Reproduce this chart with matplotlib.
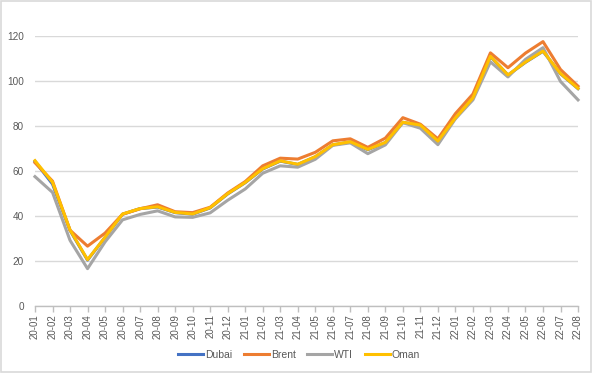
import matplotlib
matplotlib.use("Agg")
import matplotlib.pyplot as plt
from matplotlib.patches import Rectangle

months = ["20-01", "20-02", "20-03", "20-04", "20-05", "20-06", "20-07", "20-08",
          "20-09", "20-10", "20-11", "20-12", "21-01", "21-02", "21-03", "21-04",
          "21-05", "21-06", "21-07", "21-08", "21-09", "21-10", "21-11", "21-12",
          "22-01", "22-02", "22-03", "22-04", "22-05", "22-06", "22-07", "22-08"]

dubai = [64.3, 54.2, 33.6, 20.4, 30.5, 40.8, 43.3, 44.0, 41.5, 40.8, 43.6, 49.8,
         54.8, 60.9, 64.4, 62.9, 66.3, 71.6, 72.9, 69.5, 72.6, 81.6, 80.3, 73.2,
         83.5, 92.4, 110.9, 102.6, 108.3, 113.2, 103.2, 96.6]
brent = [63.7, 55.5, 33.7, 26.6, 32.4, 40.8, 43.2, 45.0, 41.9, 41.5, 43.9, 50.2,
         55.3, 62.3, 65.7, 65.3, 68.3, 73.4, 74.3, 70.5, 74.6, 83.7, 80.8, 74.3,
         85.5, 94.2, 112.5, 105.9, 112.4, 117.5, 105.1, 97.7]
wti = [57.5, 50.5, 29.2, 16.6, 28.5, 38.3, 40.7, 42.3, 39.6, 39.4, 41.4, 47.0,
       52.0, 59.0, 62.3, 61.7, 65.2, 71.4, 72.5, 67.7, 71.6, 81.5, 79.0, 71.7,
       83.2, 91.6, 108.5, 101.8, 109.6, 114.8, 99.8, 91.6]
oman = [64.6, 55.0, 33.8, 20.6, 30.6, 40.9, 43.3, 44.1, 41.6, 40.9, 43.7, 49.9,
        54.9, 61.0, 64.5, 63.0, 66.4, 71.7, 73.0, 69.6, 72.7, 81.7, 80.4, 73.3,
        83.6, 92.5, 111.0, 102.7, 108.4, 113.3, 103.3, 96.7]

series = [("Dubai", dubai, "#4472C4"), ("Brent", brent, "#ED7D31"),
          ("WTI", wti, "#A5A5A5"), ("Oman", oman, "#FFC000")]

plt.rcParams['font.family'] = ['Liberation Sans', 'DejaVu Sans']

fig = plt.figure(figsize=(5.92, 3.73), dpi=100)
fig.patches.append(Rectangle((0.001, 0.002), 0.997, 0.995, transform=fig.transFigure,
                             fill=False, edgecolor="#D9D9D9", linewidth=1.2))
ax = fig.add_axes([0.0591, 0.1796, 0.9173, 0.7239])

x = list(range(len(months)))
for name, vals, col in series:
    ax.plot(x, vals, color=col, linewidth=2.2, label=name, clip_on=False,
            solid_joinstyle="round")

ax.set_xlim(0, len(months) - 1)
ax.set_ylim(0, 120)
ax.set_yticks(range(0, 121, 20))
ax.yaxis.grid(True, color="#D9D9D9", linewidth=1.0)
ax.set_axisbelow(True)
for s in ["top", "right", "left"]:
    ax.spines[s].set_visible(False)
ax.spines["bottom"].set_color("#BFBFBF")
ax.spines["bottom"].set_linewidth(1.0)
ax.set_xticks(x)
ax.set_xticklabels(months, rotation=90, fontsize=7, color="#595959")
ax.tick_params(axis="x", length=4, color="#BFBFBF", width=1.0, pad=2)
ax.tick_params(axis="y", length=0, labelsize=7.2, labelcolor="#595959", pad=8)

fig.legend(loc="center", bbox_to_anchor=(0.505, 0.048), ncol=4, frameon=False,
           fontsize=7.5, handlelength=2.4, handletextpad=0.2, columnspacing=1.1,
           labelcolor="#595959")

fig.savefig("out.png", dpi=100)
